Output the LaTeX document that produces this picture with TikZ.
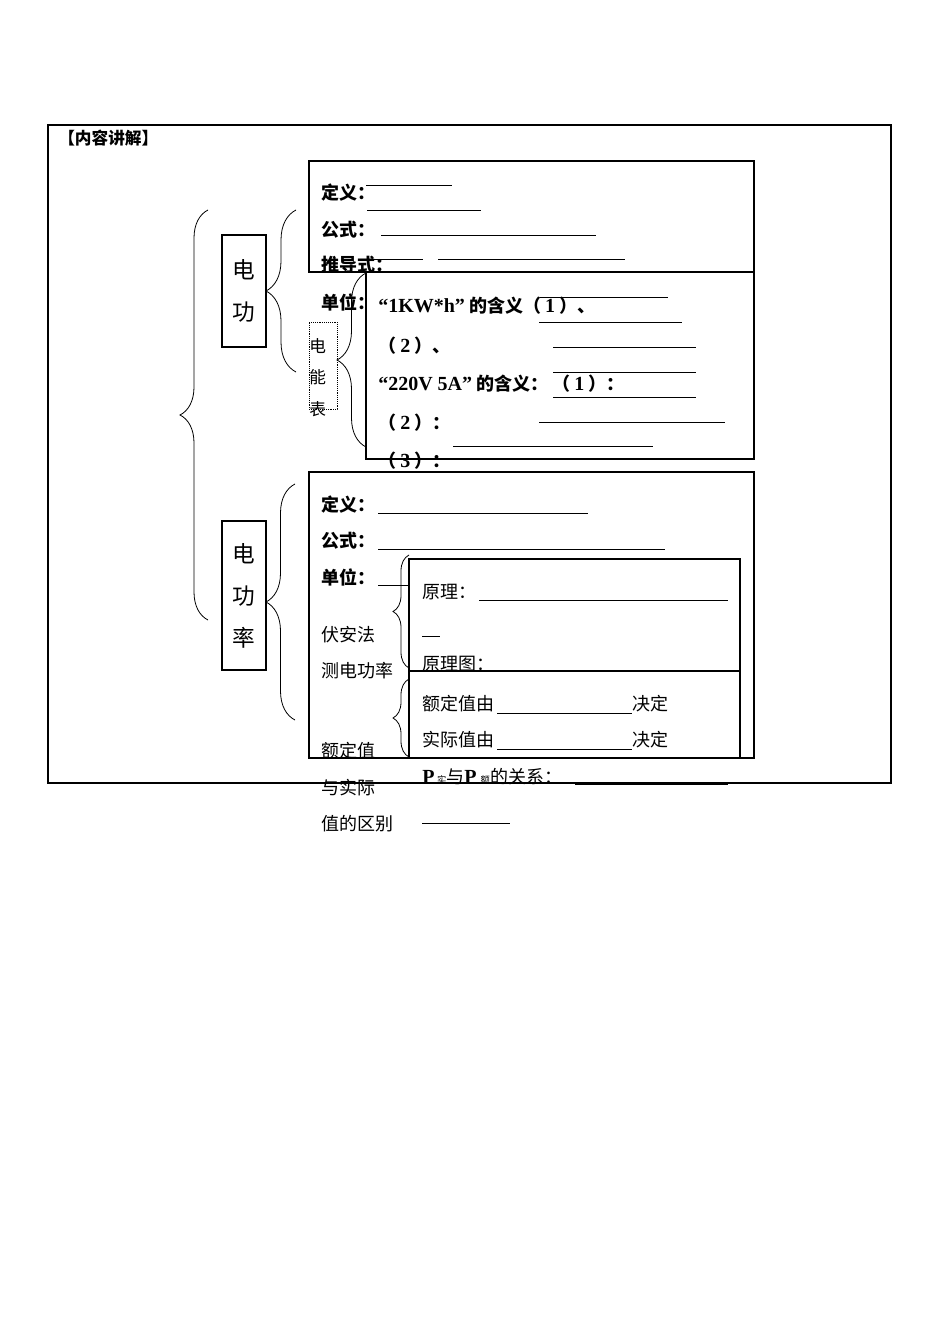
\documentclass[tikz,border=0pt]{standalone}
\usepackage{fontspec}
\setmainfont{Liberation Serif}
\newfontfamily\cjk{Noto Sans CJK SC}
\usetikzlibrary{decorations.pathreplacing}

\newcommand{\num}[1]{\hspace{3pt}{\rmfamily\fontsize{15}{15}\selectfont #1}\hspace{3pt}}
\newcommand{\lat}[1]{{\rmfamily\fontsize{15}{15}\selectfont #1}}

\tikzset{
  frame/.style={draw, line width=0.8pt},
  headbox/.style={draw, line width=0.8pt, minimum width=33pt, inner sep=0pt, align=center,
    font=\cjk\fontsize{17}{31.5}\selectfont},
  item/.style={anchor=west, inner sep=0pt, font=\cjk\bfseries\fontsize{13.5}{15}\selectfont},
  plain/.style={anchor=west, inner sep=0pt, font=\cjk\fontsize{13.5}{15}\selectfont},
  blank/.style={line width=0.6pt},
  curly/.style={decorate, decoration={brace, amplitude=#1}, line width=0.6pt},
}

\begin{document}
\begin{tikzpicture}[x=0.75pt, y=-0.75pt]
			          %\draw[help lines] (0,0) grid (950,1344);
			          \useasboundingbox (0,0) rectangle (950,1344);
			          \draw[frame] (48,125) rectangle (891,783);
			          \node[item, font=\cjk\bfseries\fontsize{12.5}{14}\selectfont] (title) at (58,138) {【内容讲解】};

			          %heads
			          \node[headbox, minimum height=84pt] (work) at (244,291) {电\\功};
			          \node[headbox, minimum height=111.75pt] (power) at (244,595.5) {电\\功\\率};
			          \node[draw, densely dotted, minimum width=21pt, minimum height=65pt, inner sep=0pt] (meter) at (323,365.5) {};
			          \node[anchor=north west, inner sep=0pt, align=left, font=\cjk\fontsize{12.5}{23.6}\selectfont] (meterlbl) at (309,338) {电\\能\\表};

			          %boxes
			          \draw[frame] (309,161) rectangle (754,272);
			          \draw[frame] (366,272) rectangle (754,459);
			          \draw[frame] (309,472) rectangle (754,758);
			          \draw[frame] (409,559) rectangle (740,671);
			          \draw[frame] (409,671) rectangle (740,758);

			          %braces
			          \coordinate (all-a) at (208,620); \coordinate (all-b) at (208,210);
			          \coordinate (work-a) at (296,372); \coordinate (work-b) at (296,210);
			          \coordinate (meter-a) at (366,447); \coordinate (meter-b) at (366,273);
			          \coordinate (power-a) at (295,720); \coordinate (power-b) at (295,484);
			          \coordinate (vam-a) at (409,668); \coordinate (vam-b) at (409,555);
			          \coordinate (rat-a) at (409,757); \coordinate (rat-b) at (409,679);
			          \draw[curly=21pt] (all-a) -- (all-b);
			          \draw[curly=22.5pt] (work-a) -- (work-b);
			          \draw[curly=21.75pt] (meter-a) -- (meter-b);
			          \draw[curly=21.75pt] (power-a) -- (power-b);
			          \draw[curly=12pt] (vam-a) -- (vam-b);
			          \draw[curly=12pt] (rat-a) -- (rat-b);

			          %work
			          \node[item] (def1) at (321,193) {定义：};
			          \draw[blank] (366,185) -- (452,185);
			          \draw[blank] (367,210) -- (481,210);
			          \node[item] (for1) at (321,230) {公式：};
			          \draw[blank] (381,235) -- (596,235);
			          \node[item] (der1) at (321,265) {推导式：};
			          \draw[blank] (370,259) -- (423,259);
			          \draw[blank] (438,259) -- (625,259);
			          \node[item] (unit1) at (321,302) {单位：};

			          %meter
			          \node[item] (kwh) at (378,306) {\lat{“1KW*h”} 的含义（\num{1}）、};
			          \draw[blank] (540,297) -- (668,297);
			          \draw[blank] (539,322) -- (682,322);
			          \node[item] (kwh2) at (378,346) {（\num{2}）、};
			          \draw[blank] (553,347) -- (696,347);
			          \draw[blank] (553,372) -- (696,372);
			          \node[item] (volt1) at (378,384) {\lat{“220V 5A”} 的含义： （\num{1}）：};
			          \draw[blank] (553,397) -- (696,397);
			          \node[item] (volt2) at (378,423) {（\num{2}）：};
			          \draw[blank] (539,422) -- (725,422);
			          \draw[blank] (453,446) -- (653,446);
			          \node[item] (volt3) at (378,461) {（\num{3}）：};

			          %power
			          \node[item] (def2) at (321,505) {定义：};
			          \draw[blank] (378,513) -- (588,513);
			          \node[item] (for2) at (321,541) {公式：};
			          \draw[blank] (378,549) -- (665,549);
			          \node[item] (unit2) at (321,577) {单位：};
			          \draw[blank] (378,585) -- (409,585);
			          \node[plain] (vam1) at (321,635) {伏安法};
			          \node[plain] (vam2) at (321,671) {测电功率};
			          \node[plain] (rat1) at (321,751) {额定值};
			          \node[plain] (rat2) at (321,788) {与实际};
			          \node[plain] (rat3) at (321,824) {值的区别};

			          %vam + rated
			          \node[plain] (prin) at (422,592) {原理：};
			          \draw[blank] (479,600) -- (728,600);
			          \draw[blank] (422,636) -- (440,636);
			          \node[plain] (diag) at (422,664) {原理图：};
			          \node[plain] (rated) at (422,704) {额定值由};
			          \draw[blank] (497,713) -- (632,713);
			          \node[plain] (rdec) at (632,704) {决定};
			          \node[plain] (actual) at (422,740) {实际值由};
			          \draw[blank] (497,749) -- (632,749);
			          \node[plain] (adec) at (632,740) {决定};
			          \node[plain] (rel) at (422,777) {\lat{\bfseries P}\hspace{2pt}{\fontsize{7}{8}\selectfont 实}与\lat{\bfseries P}\hspace{3pt}{\fontsize{7}{8}\selectfont 额}的关系：};
			          \draw[blank] (575,784) -- (728,784);
			          \draw[blank] (422,823) -- (510,823);
\end{tikzpicture}
\end{document}
